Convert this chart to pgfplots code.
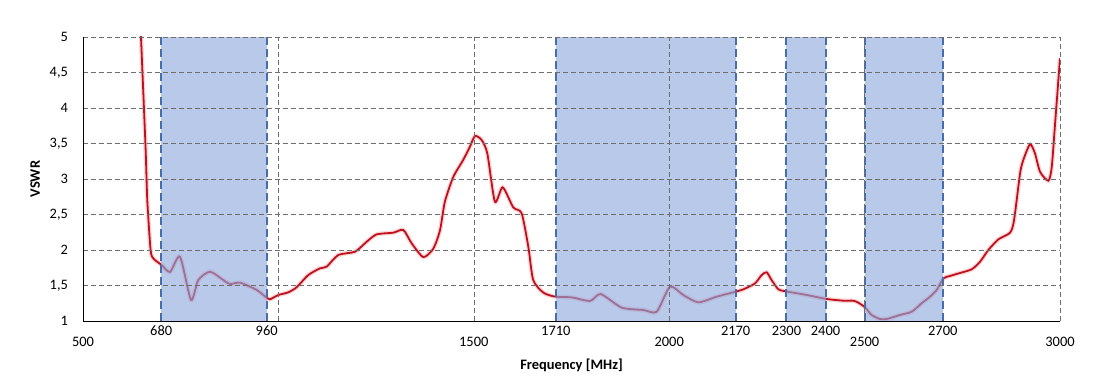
\documentclass[border=0pt]{standalone}
\usepackage{fontspec}
\setmainfont{Carlito}
\usepackage{pgfplots}
\pgfplotsset{compat=1.18}
\definecolor{vred}{RGB}{192,16,28}
\definecolor{glow}{RGB}{240,120,130}
\definecolor{bandfill}{RGB}{142,169,220}
\definecolor{bandedge}{RGB}{70,110,170}
\definecolor{gridgray}{RGB}{110,110,110}
\begin{document}
\fontsize{14.5}{17}\selectfont
\begin{tikzpicture}
\begin{axis}[name=ax, scale only axis, width=977bp, height=284bp,
  xmin=500, xmax=3000, ymin=1, ymax=5,
  axis x line*=bottom, axis y line*=left,
  axis line style={-, black, line width=0.9bp},
  xtick={500,1000,1500,2000,2500,3000},
  xticklabels={500,,1500,2000,2500,3000},
  extra x ticks={700,970,1710,2170,2300,2400,2700},
  extra x tick labels={680,960,1710,2170,2300,2400,2700},
  extra x tick style={grid=none, xticklabel style={yshift=11bp}},
  xticklabel style={yshift=-11bp},
  ytick={1,1.5,2,2.5,3,3.5,4,4.5,5},
  yticklabel style={xshift=-10bp},
  /pgf/number format/use comma,
  /pgf/number format/assume math mode=true,
  grid=major,
  major grid style={gridgray, line width=0.6bp, dash pattern=on 5bp off 3bp},
  major tick length=0pt,
  axis on top,
  xlabel={\textbf{Frequency [MHz]}}, ylabel={\textbf{VSWR}},
  xlabel style={at={(axis description cs:0.5,-0.155)}, anchor=center},
  ylabel style={at={(axis description cs:-0.049,0.5)}, anchor=center},
]
\pgfplotstableread{
f v
648 5.05
660 3.455
664.5 2.70
673 2.0
680 1.88
701 1.79
722.6 1.69
748.2 1.906
776.4 1.296
795 1.577
825 1.694
859 1.577
876 1.52
902 1.54
944.5 1.437
971.6 1.32
978.5 1.305
999.8 1.366
1025.4 1.404
1046.6 1.475
1076.5 1.648
1106.5 1.742
1123.4 1.765
1153.3 1.93
1196 1.976
1226 2.117
1251.4 2.22
1294 2.244
1319.7 2.282
1341 2.094
1370.8 1.90
1396.4 2.02
1413.6 2.28
1426 2.68
1447.6 3.03
1473 3.27
1490 3.455
1503 3.605
1520 3.55
1534.6 3.36
1554 2.68
1574 2.883
1601 2.60
1622.4 2.517
1639.5 2.046
1652 1.577
1678 1.40
1708 1.343
1750.6 1.333
1797.4 1.282
1824.8 1.38
1878.5 1.188
1933.8 1.155
1968 1.131
2002 1.483
2036 1.366
2074.6 1.263
2121.6 1.343
2164 1.404
2189.6 1.446
2219.6 1.53
2236.7 1.648
2249.5 1.686
2262 1.577
2279.3 1.446
2296.4 1.42
2352 1.366
2403 1.31
2445.6 1.286
2471 1.286
2484 1.258
2501 1.193
2518 1.085
2539.5 1.028
2556.6 1.028
2590.6 1.085
2620.5 1.131
2646 1.25
2667.5 1.343
2684.5 1.437
2701.5 1.60
2718.6 1.634
2740 1.67
2774 1.728
2795.4 1.835
2816.6 2.0
2842.2 2.15
2872.2 2.244
2882.4 2.42
2897.8 3.08
2906.2 3.27
2923.3 3.49
2936 3.36
2949 3.10
2970.3 2.976
2978.9 3.17
2987.4 3.78
3000 4.70
}\vswr
\addplot[glow, opacity=0.3, line width=4.5bp, smooth, tension=0.4] table[x=f,y=v] {\vswr};
\addplot[vred, line width=1.8bp, smooth, tension=0.4] table[x=f,y=v] {\vswr};
\addplot[draw=none, fill=bandfill, fill opacity=0.63] coordinates {(700,1) (700,5) (970,5) (970,1)} -- cycle;
\addplot[draw=none, fill=bandfill, fill opacity=0.63] coordinates {(1710,1) (1710,5) (2170,5) (2170,1)} -- cycle;
\addplot[draw=none, fill=bandfill, fill opacity=0.63] coordinates {(2300,1) (2300,5) (2400,5) (2400,1)} -- cycle;
\addplot[draw=none, fill=bandfill, fill opacity=0.63] coordinates {(2500,1) (2500,5) (2700,5) (2700,1)} -- cycle;
\foreach \e in {700,970,1710,2170,2300,2400,2500,2700}{
  \edef\tmp{\noexpand\addplot[bandedge, line width=2bp, dash pattern=on 8bp off 4bp] coordinates {(\e,1) (\e,5)};}
  \tmp
}
\end{axis}
\path ([xshift=-83bp,yshift=-67bp]ax.south west) rectangle ([xshift=50bp,yshift=37bp]ax.north east);
\end{tikzpicture}
\end{document}
